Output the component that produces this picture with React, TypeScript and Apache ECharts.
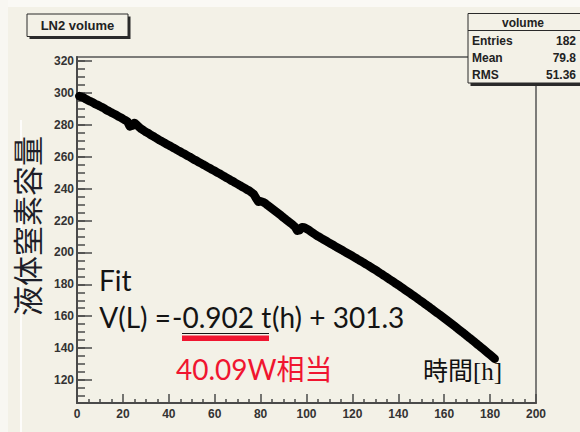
import React, { useEffect, useRef } from "react";
import * as echarts from "echarts";

// LN2 volume [L] read hour by hour (t = 1 .. 182 h)
const volumes = [
  298.0, 297.4, 296.9, 296.0, 295.2, 294.6, 293.9, 293.0, 292.4, 291.6,
  290.9, 290.2, 289.1, 288.5, 287.6, 286.9, 286.2, 285.3, 284.6, 283.7,
  282.9, 282.0, 279.0, 279.4, 281.2, 280.0, 278.6, 277.4, 276.5, 275.5,
  274.8, 273.8, 273.0, 272.1, 271.3, 270.3, 269.6, 268.8, 267.9, 267.2,
  266.4, 265.5, 264.8, 263.9, 263.2, 262.3, 261.6, 260.7, 260.0, 259.1,
  258.2, 257.5, 256.6, 255.9, 255.0, 254.3, 253.4, 252.7, 251.8, 251.1,
  250.2, 249.5, 248.6, 247.8, 246.9, 246.2, 245.2, 244.5, 243.6, 242.8,
  242.0, 241.1, 240.4, 239.4, 238.7, 237.6, 236.5, 234.0, 231.8, 232.0,
  231.6, 230.8, 229.6, 228.5, 227.4, 226.3, 225.2, 224.1, 223.0, 221.8,
  220.7, 219.5, 218.5, 217.3, 216.0, 213.6, 214.0, 215.8, 215.6, 214.8,
  214.0, 213.0, 212.0, 211.0, 210.1, 209.3, 208.4, 207.6, 206.8, 205.9,
  205.1, 204.3, 203.4, 202.6, 201.8, 201.0, 200.1, 199.3, 198.5, 197.7,
  196.8, 196.0, 195.1, 194.3, 193.4, 192.5, 191.7, 190.8, 189.9, 189.0,
  188.1, 187.1, 186.2, 185.2, 184.3, 183.3, 182.4, 181.4, 180.4, 179.5,
  178.5, 177.5, 176.5, 175.5, 174.5, 173.5, 172.5, 171.5, 170.4, 169.4,
  168.4, 167.3, 166.3, 165.2, 164.2, 163.1, 162.0, 161.0, 159.9, 158.8,
  157.7, 156.6, 155.5, 154.4, 153.3, 152.1, 151.0, 149.9, 148.7, 147.6,
  146.4, 145.3, 144.1, 142.9, 141.8, 140.6, 139.4, 138.2, 137.0, 135.8,
  134.6, 133.4,
];
const firstHour = 1;

const yMajorTicks = [120, 140, 160, 180, 200, 220, 240, 260, 280, 300, 320];
const yMinorTicks = [
  110, 115, 120, 125, 130, 135, 140, 145, 150, 155, 160, 165, 170, 175, 180,
  185, 190, 195, 200, 205, 210, 215, 220, 225, 230, 235, 240, 245, 250, 255,
  260, 265, 270, 275, 280, 285, 290, 295, 300, 305, 310, 315, 320,
];

const histTitle = "LN2 volume";
const statsTitle = "volume";
const statsRows = [
  ["Entries", "182"],
  ["Mean", "79.8"],
  ["RMS", "51.36"],
];
const yTitle = "液体窒素容量";
const xTitle = "時間[h]";
const fitLabel = "Fit";
// "V(L) = -0.902 t(h) + 301.3", in three pieces so the underlined slope sits where it does
const fitFormulaParts = ["V(L) =", "-0.902 t", "(h) + 301.3"];
const powerNote = "40.09W相当";

const BG = "#f3f1e7";
const RED = "#f01530";
const INK = "#141414";

export default function App() {
  const ref = useRef<HTMLDivElement>(null);

  useEffect(() => {
    if (!ref.current) return;
    const chart = echarts.init(ref.current, null, { renderer: "svg" });

    const data = volumes.map((v, i) => [firstHour + i, v]);
    const axisFont = {
      fontFamily: "'Liberation Sans', Arial, sans-serif",
      fontWeight: "bold" as const,
      fontSize: 12,
      color: "#333",
    };

    const statsGraphics: any[] = [];
    statsRows.forEach((row, i) => {
      const y = 40.5 + i * 17;
      statsGraphics.push({
        type: "text",
        x: 472,
        y,
        z: 102,
        style: {
          text: row[0],
          fill: "#222",
          font: "bold 12px 'Liberation Sans', Arial, sans-serif",
          align: "left",
          verticalAlign: "middle",
        },
      });
      statsGraphics.push({
        type: "text",
        x: 576,
        y,
        z: 102,
        style: {
          text: row[1],
          fill: "#222",
          font: "bold 12px 'Liberation Sans', Arial, sans-serif",
          align: "right",
          verticalAlign: "middle",
        },
      });
    });

    const formulaPos: [number, string][] = [
      [171, "right"],
      [172, "left"],
      [272, "left"],
    ];
    const formulaGraphics = fitFormulaParts.map((part, i) => ({
      type: "text",
      x: formulaPos[i][0],
      y: 317,
      z: 50,
      style: {
        text: part,
        fill: INK,
        font: "28px Lato, sans-serif",
        align: formulaPos[i][1],
        verticalAlign: "middle",
      },
    }));

    chart.setOption({
      animation: false,
      backgroundColor: BG,
      grid: {
        left: 77,
        right: 44,
        top: 57,
        bottom: 29,
        containLabel: false,
        show: true,
        borderColor: "#555",
        borderWidth: 1.5,
        backgroundColor: "transparent",
      },
      xAxis: {
        type: "value",
        min: 0,
        max: 200,
        interval: 20,
        axisLine: { show: true, lineStyle: { color: "#4a4a4a", width: 2 } },
        axisTick: { show: true, inside: true, length: 9, lineStyle: { color: "#4a4a4a", width: 1.5 } },
        minorTick: { show: true, splitNumber: 4, length: 4, lineStyle: { color: "#4a4a4a", width: 1.5 } },
        axisLabel: { ...axisFont, margin: 5 },
        splitLine: { show: false },
      },
      yAxis: [
        {
          type: "value",
          min: 105.6,
          max: 322.5,
          position: "left",
          axisLine: { show: true, lineStyle: { color: "#4a4a4a", width: 2 } },
          axisTick: {
            show: true,
            inside: true,
            length: 15,
            customValues: yMajorTicks,
            lineStyle: { color: "#4a4a4a", width: 1.5 },
          },
          axisLabel: { ...axisFont, margin: 3, customValues: yMajorTicks },
          splitLine: { show: false },
        },
        {
          type: "value",
          min: 105.6,
          max: 322.5,
          position: "left",
          offset: 0,
          axisLine: { show: false },
          axisTick: {
            show: true,
            inside: true,
            length: 8,
            customValues: yMinorTicks,
            lineStyle: { color: "#4a4a4a", width: 1.5 },
          },
          axisLabel: { show: false },
          splitLine: { show: false },
        },
      ],
      series: [
        {
          type: "line",
          data,
          yAxisIndex: 0,
          showSymbol: false,
          symbol: "none",
          lineStyle: { color: "#000", width: 8.5, cap: "round", join: "round" },
          z: 5,
        },
      ],
      graphic: [
        // slide edges
        { type: "rect", shape: { x: 0, y: 0, width: 580, height: 7 }, style: { fill: "#faf9f5" }, z: -1, silent: true },
        { type: "rect", shape: { x: 0, y: 0, width: 8, height: 432 }, style: { fill: "#f8f7f2" }, z: -1, silent: true },
        { type: "rect", shape: { x: 20, y: 120, width: 2, height: 312 }, style: { fill: "#ffffff", opacity: 0.8 }, z: -1, silent: true },
        // histogram title box
        { type: "rect", shape: { x: 29.5, y: 16.5, width: 101, height: 22.5 }, style: { fill: "#2a2a2a" }, z: 100 },
        { type: "rect", shape: { x: 27, y: 14, width: 101, height: 22.5 }, style: { fill: BG, stroke: "#2a2a2a", lineWidth: 1 }, z: 101 },
        {
          type: "text",
          x: 77.5,
          y: 25.5,
          z: 102,
          style: {
            text: histTitle,
            fill: "#222",
            font: "bold 13px 'Liberation Sans', Arial, sans-serif",
            align: "center",
            verticalAlign: "middle",
          },
        },
        // stats box
        { type: "rect", shape: { x: 470.5, y: 16, width: 116, height: 70 }, style: { fill: "#2a2a2a" }, z: 100 },
        { type: "rect", shape: { x: 468, y: 13.5, width: 116, height: 69.5 }, style: { fill: BG, stroke: "#2a2a2a", lineWidth: 1 }, z: 101 },
        { type: "line", shape: { x1: 468, y1: 30.5, x2: 584, y2: 30.5 }, style: { stroke: "#2a2a2a", lineWidth: 1 }, z: 102 },
        {
          type: "text",
          x: 523,
          y: 22.5,
          z: 102,
          style: {
            text: statsTitle,
            fill: "#222",
            font: "bold 12px 'Liberation Sans', Arial, sans-serif",
            align: "center",
            verticalAlign: "middle",
          },
        },
        ...statsGraphics,
        // y-axis title
        {
          type: "text",
          x: 26,
          y: 226,
          rotation: Math.PI / 2,
          z: 50,
          style: {
            text: yTitle,
            fill: "#1e1e28",
            font: "30px 'Noto Sans CJK JP', sans-serif",
            align: "center",
            verticalAlign: "middle",
          },
        },
        // x-axis title
        {
          type: "text",
          x: 423,
          y: 371,
          z: 50,
          style: {
            text: xTitle,
            fill: "#111",
            font: "25px 'Liberation Serif', 'Noto Sans CJK JP', serif",
            align: "left",
            verticalAlign: "middle",
          },
        },
        // fit annotation
        {
          type: "text",
          x: 99,
          y: 280,
          z: 50,
          style: {
            text: fitLabel,
            fill: INK,
            font: "28px Lato, sans-serif",
            align: "left",
            verticalAlign: "middle",
          },
        },
        ...formulaGraphics,
        { type: "line", shape: { x1: 182, y1: 333.5, x2: 269, y2: 333.5 }, style: { stroke: INK, lineWidth: 1.2 }, z: 50 },
        { type: "rect", shape: { x: 182, y: 335.5, width: 87, height: 5.5 }, style: { fill: RED }, z: 50 },
        {
          type: "text",
          x: 176,
          y: 368.5,
          z: 50,
          style: {
            text: powerNote,
            fill: RED,
            font: "28px Lato, 'Noto Sans CJK JP', sans-serif",
            align: "left",
            verticalAlign: "middle",
          },
        },
      ],
    });

    return () => chart.dispose();
  }, []);

  return (
    <div
      ref={ref}
      style={{ position: "absolute", left: 0, top: 0, width: 580, height: 432 }}
    />
  );
}
